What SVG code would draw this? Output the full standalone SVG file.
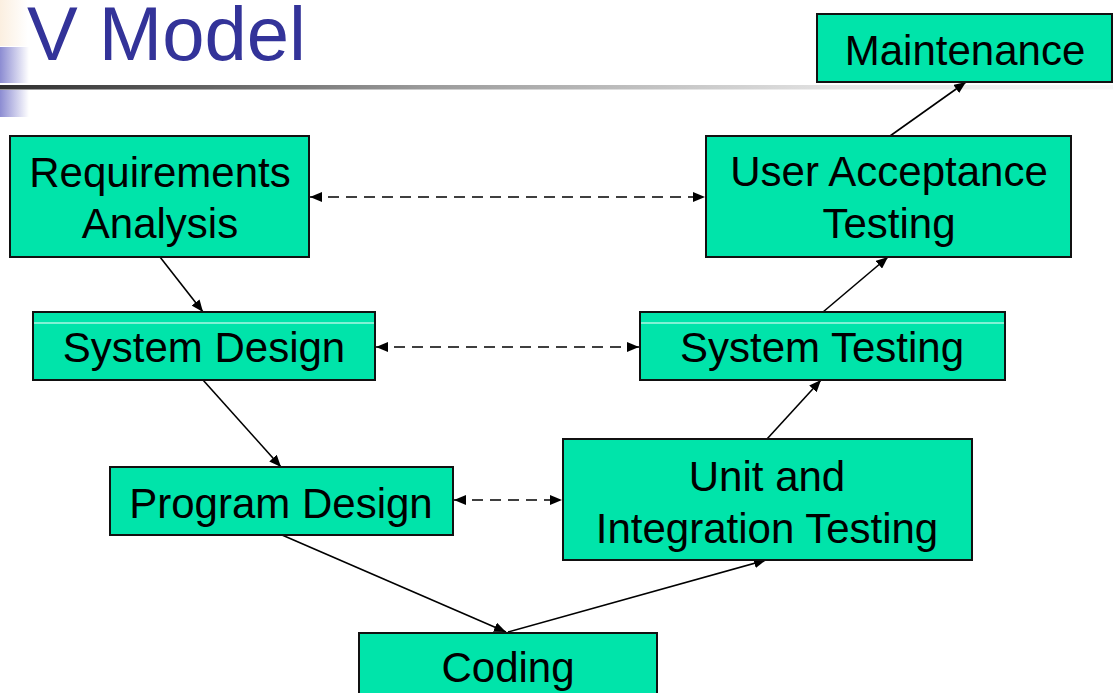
<svg xmlns="http://www.w3.org/2000/svg" width="1113" height="693" viewBox="0 0 1113 693">
<style>
.box{fill:#00E4AA;stroke:#111;stroke-width:2}
.lbl{font-family:"Liberation Sans",Arial,sans-serif;font-size:42px;fill:#000;text-anchor:middle}
.c{stroke:#000;stroke-width:1.6;fill:none}
.d{stroke:#000;stroke-width:1.6;fill:none;stroke-dasharray:11,7}
.hl{stroke:#fff;stroke-width:1.2}
</style>
<defs>
<linearGradient id="blueg" x1="0" y1="0" x2="1" y2="0">
<stop offset="0" stop-color="#8c8cd2"/>
<stop offset="1" stop-color="#ffffff"/>
</linearGradient>
<linearGradient id="peach" x1="0" y1="0" x2="1" y2="0">
<stop offset="0" stop-color="#fbefe0"/>
<stop offset="1" stop-color="#ffffff"/>
</linearGradient>
<linearGradient id="rule" x1="0" y1="0" x2="1113" y2="0" gradientUnits="userSpaceOnUse">
<stop offset="0" stop-color="#2e2e2e"/>
<stop offset="0.38" stop-color="#9a9a9a"/>
<stop offset="0.75" stop-color="#e2e2e2"/>
<stop offset="1" stop-color="#f6f6f6"/>
</linearGradient>
<marker id="ah" viewBox="0 0 12 10" refX="12" refY="5" markerWidth="12" markerHeight="10" markerUnits="userSpaceOnUse" orient="auto-start-reverse">
<path d="M0,0 L12,5 L0,10 Z" fill="#000"/>
</marker>
</defs>
<g id="title">
<rect x="0" y="0" width="28" height="46" fill="url(#peach)"/>
<rect x="0" y="47" width="29" height="36" fill="url(#blueg)"/>
<rect x="0" y="90" width="29" height="27" fill="url(#blueg)"/>
<rect x="0" y="85" width="1113" height="4.5" fill="url(#rule)"/>
<text x="27" y="60" font-family="'Liberation Sans',Arial,sans-serif" font-size="76" fill="#333399" textLength="279" lengthAdjust="spacingAndGlyphs">V Model</text>
</g>
<g id="connectors">
<line class="c" x1="160" y1="257" x2="203" y2="312" marker-end="url(#ah)"/>
<line class="c" x1="203" y1="380" x2="281" y2="467" marker-end="url(#ah)"/>
<line class="c" x1="282" y1="535" x2="506" y2="632" marker-end="url(#ah)"/>
<line class="c" x1="508" y1="632" x2="766" y2="560" marker-end="url(#ah)"/>
<line class="c" x1="767" y1="439" x2="821" y2="380" marker-end="url(#ah)"/>
<line class="c" x1="823" y1="312" x2="888" y2="257" marker-end="url(#ah)"/>
<line class="c" x1="890" y1="136" x2="966" y2="82" marker-end="url(#ah)"/>
<line class="d" x1="310" y1="197" x2="705" y2="197" marker-start="url(#ah)" marker-end="url(#ah)"/>
<line class="d" x1="376" y1="347" x2="639" y2="347" marker-start="url(#ah)" marker-end="url(#ah)"/>
<line class="d" x1="454" y1="500" x2="562" y2="500" marker-start="url(#ah)" marker-end="url(#ah)"/>
</g>
<g id="maintenance">
<rect class="box" x="817" y="14" width="295" height="68"/>
<text class="lbl" x="965" y="65">Maintenance</text>
</g>
<g id="requirements">
<rect class="box" x="10" y="136" width="299" height="121"/>
<text class="lbl" x="160" y="187">Requirements</text>
<text class="lbl" x="160" y="238">Analysis</text>
</g>
<g id="uat">
<rect class="box" x="706" y="136" width="365" height="121"/>
<text class="lbl" x="889" y="186">User Acceptance</text>
<text class="lbl" x="889" y="238">Testing</text>
</g>
<g id="system-design">
<rect class="box" x="33" y="312" width="342" height="68"/>
<line class="hl" x1="34" y1="323" x2="374" y2="323"/>
<text class="lbl" x="204" y="362">System Design</text>
</g>
<g id="system-testing">
<rect class="box" x="640" y="312" width="365" height="68"/>
<line class="hl" x1="641" y1="323" x2="1004" y2="323"/>
<text class="lbl" x="822" y="362">System Testing</text>
</g>
<g id="program-design">
<rect class="box" x="110" y="467" width="343" height="68"/>
<text class="lbl" x="281" y="518">Program Design</text>
</g>
<g id="unit-integration">
<rect class="box" x="563" y="439" width="409" height="121"/>
<text class="lbl" x="767" y="491">Unit and</text>
<text class="lbl" x="767" y="543">Integration Testing</text>
</g>
<g id="coding">
<rect class="box" x="359" y="633" width="298" height="70"/>
<text class="lbl" x="508" y="682">Coding</text>
</g>
</svg>
